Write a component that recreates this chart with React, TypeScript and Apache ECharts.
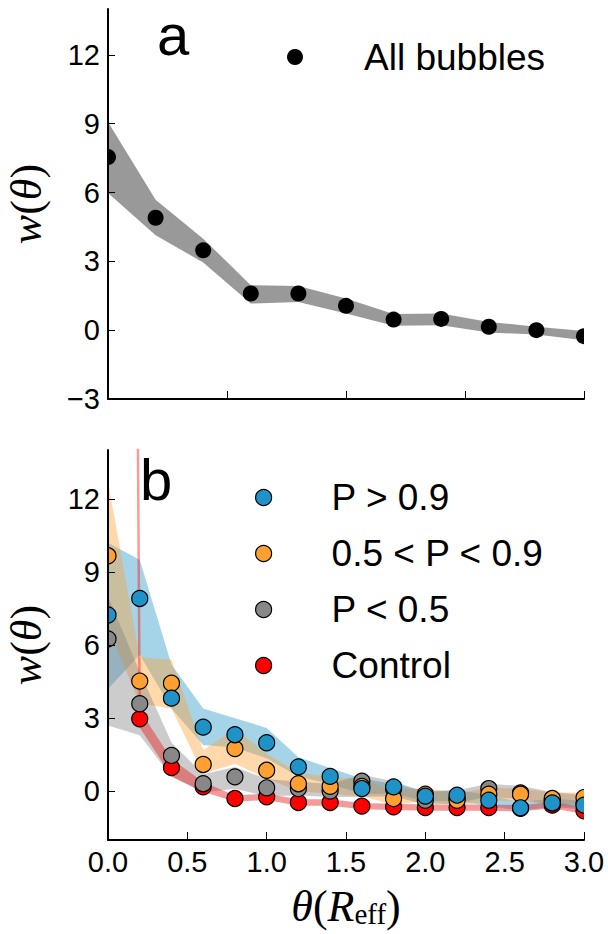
import React, { useEffect, useRef } from "react";
import * as echarts from "echarts";

// ---------- Panel a data ----------
const thetaA = [0, 0.3, 0.6, 0.9, 1.2, 1.5, 1.8, 2.1, 2.4, 2.7, 3.0];
const allW = [7.55, 4.9, 3.48, 1.6, 1.6, 1.06, 0.46, 0.49, 0.15, 0.0, -0.26];
const allLo = [5.98, 4.14, 2.95, 1.16, 1.23, 0.73, 0.19, 0.22, -0.1, -0.19, -0.44];
const allHi = [9.07, 5.69, 3.99, 1.96, 1.93, 1.38, 0.7, 0.73, 0.36, 0.15, -0.04];

// ---------- Panel b data ----------
const thetaB = [0, 0.2, 0.4, 0.6, 0.8, 1.0, 1.2, 1.4, 1.6, 1.8, 2.0, 2.2, 2.4, 2.6, 2.8, 3.0];
const highW = [7.23, 7.91, 3.82, 2.63, 2.32, 1.99, 1.0, 0.61, 0.11, 0.18, -0.2, -0.16, -0.37, -0.68, -0.48, -0.57];
const highLo = [4.2, 5.6, 3.4, 1.9, 1.8, 1.35, 0.6, 0.3, -0.1, -0.1, -0.4, -0.4, -0.6, -0.8, -0.65, -0.75];
const highHi = [10.2, 9.5, 5.2, 3.4, 3.0, 2.6, 1.4, 0.95, 0.52, 0.3, 0.0, 0.05, -0.15, -0.45, -0.3, -0.4];

const midW = [9.66, 4.52, 4.43, 1.1, 1.75, 0.86, 0.31, 0.2, 0.2, -0.3, -0.12, -0.37, -0.12, -0.12, -0.3, -0.26];
const midLo = [6.7, 3.6, 3.4, 0.72, 1.13, 0.52, 0.0, -0.1, -0.2, -0.55, -0.4, -0.6, -0.4, -0.4, -0.55, -0.5];
const midHi = [12.7, 5.5, 5.4, 1.68, 2.56, 1.54, 0.75, 0.6, 0.5, 0.0, 0.15, -0.1, 0.15, 0.1, -0.05, -0.05];

const lowW = [6.25, 3.59, 1.47, 0.31, 0.59, 0.14, 0.11, 0.01, 0.41, 0.1, -0.37, -0.3, 0.11, -0.07, -0.4, -0.5];
const lowLo = [2.7, 2.3, 0.6, -0.05, 0.1, -0.2, -0.16, -0.25, -0.23, -0.2, -0.55, -0.5, -0.2, -0.35, -0.55, -0.65];
const lowHi = [8.0, 4.9, 2.0, 0.7, 1.0, 0.5, 0.4, 0.3, 0.68, 0.41, -0.03, 0.04, 0.31, 0.22, -0.03, -0.16];

const controlW = [null, 2.97, 0.97, 0.18, -0.3, -0.23, -0.46, -0.46, -0.61, -0.64, -0.67, -0.67, -0.67, -0.7, -0.57, -0.8];
const controlLo = [null, 2.62, 0.62, -0.02, -0.43, -0.36, -0.59, -0.59, -0.74, -0.77, -0.8, -0.8, -0.8, -0.83, -0.7, -0.93];
const controlHi = [null, 3.32, 1.32, 0.38, -0.17, -0.1, -0.33, -0.33, -0.48, -0.51, -0.54, -0.54, -0.54, -0.57, -0.44, -0.67];
const controlAtZero = 200; // off-scale value at theta = 0

// ---------- ticks ----------
const xTicksA = [0, 0.75, 1.5, 2.25, 3.0];
const yTicksA = [-3, 0, 3, 6, 9, 12];
const xTicksB = [0, 0.5, 1.0, 1.5, 2.0, 2.5, 3.0];
const yTicksB = [0, 3, 6, 9, 12];

const SANS = "Liberation Sans";
const SERIF = "Liberation Serif";

const C_BLUE = "#1f93c8";
const C_ORANGE = "#ffa030";
const C_GRAY = "#888888";
const C_RED = "#ff0000";

function bandSeries(xs: number[], lo: (number | null)[], hi: (number | null)[], fill: string, gi: number) {
  return {
    type: "custom",
    xAxisIndex: gi,
    yAxisIndex: gi,
    clip: true,
    silent: true,
    z: 2,
    data: [[xs[0], 0]],
    renderItem: (_p: any, api: any) => {
      const pts: number[][] = [];
      for (let i = 0; i < xs.length; i++) if (hi[i] != null) pts.push(api.coord([xs[i], hi[i]]));
      for (let i = xs.length - 1; i >= 0; i--) if (lo[i] != null) pts.push(api.coord([xs[i], lo[i]]));
      return { type: "polygon", shape: { points: pts }, style: { fill } };
    },
  };
}

function dotSeries(name: string, xs: number[], ys: (number | null)[], color: string, gi: number, r: number, stroke: boolean) {
  const data: number[][] = [];
  xs.forEach((x, i) => {
    if (ys[i] != null) data.push([x, ys[i] as number]);
  });
  return {
    type: "custom",
    name,
    xAxisIndex: gi,
    yAxisIndex: gi,
    clip: true,
    z: 4,
    itemStyle: { color },
    data,
    renderItem: (_p: any, api: any) => {
      const c = api.coord([api.value(0), api.value(1)]);
      return {
        type: "circle",
        shape: { cx: c[0], cy: c[1], r },
        style: { fill: color, stroke: stroke ? "#000" : null, lineWidth: stroke ? 1.2 : 0 },
      };
    },
  };
}

const minus = (v: number) => (v < 0 ? "\u2212" + Math.abs(v) : String(v));

const axisNameRich = {
  i: { fontFamily: SERIF, fontStyle: "italic", fontSize: 44, color: "#000", lineHeight: 50, verticalAlign: "bottom" },
  n: { fontFamily: SERIF, fontSize: 44, color: "#000", lineHeight: 50, verticalAlign: "bottom" },
  s: { fontFamily: SERIF, fontSize: 29, color: "#000", lineHeight: 29, verticalAlign: "bottom" },
};

function yAxisCfg(gi: number, min: number, max: number, ticks: number[]) {
  return {
    type: "value",
    gridIndex: gi,
    min,
    max,
    z: 10,
    name: "{i|w}{n|(}{i|θ}{n|)}",
    nameLocation: "middle",
    nameRotate: 90,
    nameGap: 60,
    nameTextStyle: { rich: axisNameRich },
    axisLine: { show: true, lineStyle: { color: "#000", width: 2 } },
    axisTick: { show: true, inside: true, length: 7, customValues: ticks, lineStyle: { color: "#000", width: 1 } },
    axisLabel: {
      customValues: ticks,
      formatter: (v: number) => minus(v),
      fontFamily: SANS,
      fontSize: 29,
      color: "#000",
      margin: 8,
    },
    splitLine: { show: false },
  };
}

export default function App() {
  const ref = useRef<HTMLDivElement>(null);
  useEffect(() => {
    if (!ref.current) return;
    const chart = echarts.init(ref.current, null, { renderer: "svg" });
    const option: any = {
      animation: false,
      backgroundColor: "#fff",
      title: [
        { text: "a", left: 152, top: 0, textStyle: { fontFamily: SANS, fontSize: 58, fontWeight: "normal", color: "#000" } },
        { text: "b", left: 135, top: 445, textStyle: { fontFamily: SANS, fontSize: 58, fontWeight: "normal", color: "#000" } },
      ],
      legend: [
        {
          left: 282,
          top: 33,
          orient: "vertical",
          icon: "circle",
          itemWidth: 16,
          itemHeight: 16,
          selectedMode: false,
          textStyle: { fontFamily: SANS, fontSize: 37, color: "#000", padding: [0, 0, 0, 56], lineHeight: 38 },
          data: [{ name: "All bubbles", itemStyle: { color: "#000", borderWidth: 0 } }],
        },
        {
          left: 250,
          top: 474,
          orient: "vertical",
          icon: "circle",
          itemWidth: 16,
          itemHeight: 16,
          itemGap: 19,
          selectedMode: false,
          textStyle: { fontFamily: SANS, fontSize: 37, color: "#000", padding: [0, 0, 0, 55], lineHeight: 36 },
          data: [
            { name: "P > 0.9", itemStyle: { color: C_BLUE, borderColor: "#000", borderWidth: 1.2 } },
            { name: "0.5 < P < 0.9", itemStyle: { color: C_ORANGE, borderColor: "#000", borderWidth: 1.2 } },
            { name: "P < 0.5", itemStyle: { color: C_GRAY, borderColor: "#000", borderWidth: 1.2 } },
            { name: "Control", itemStyle: { color: C_RED, borderColor: "#000", borderWidth: 1.2 } },
          ],
        },
      ],
      grid: [
        { left: 108, top: 9, width: 476, height: 390, outerBoundsMode: "none", containLabel: false },
        { left: 108, top: 450, width: 476, height: 390, outerBoundsMode: "none", containLabel: false },
      ],
      xAxis: [
        {
          type: "value",
          gridIndex: 0,
          min: 0,
          max: 3,
          z: 10,
          axisLine: { show: true, onZero: false, lineStyle: { color: "#000", width: 2 } },
          axisTick: { show: true, inside: true, length: 8, customValues: xTicksA, lineStyle: { color: "#000", width: 1 } },
          axisLabel: { show: false, customValues: xTicksA },
          splitLine: { show: false },
        },
        {
          type: "value",
          gridIndex: 1,
          min: 0,
          max: 3,
          z: 10,
          name: "{i|θ}{n|(}{i|R}{s|eff}{n|)}",
          nameLocation: "middle",
          nameGap: 38,
          nameTextStyle: { rich: axisNameRich },
          axisLine: { show: true, onZero: false, lineStyle: { color: "#000", width: 2 } },
          axisTick: { show: true, inside: true, length: 8, customValues: xTicksB, lineStyle: { color: "#000", width: 1 } },
          axisLabel: {
            customValues: xTicksB,
            formatter: (v: number) => v.toFixed(1),
            fontFamily: SANS,
            fontSize: 29,
            color: "#000",
            margin: 7,
          },
          splitLine: { show: false },
        },
      ],
      yAxis: [yAxisCfg(0, -3, 14, yTicksA), yAxisCfg(1, -2, 14, yTicksB)],
      series: [
        // panel a
        bandSeries(thetaA, allLo, allHi, "#999999", 0),
        dotSeries("All bubbles", thetaA, allW, "#000", 0, 8, false),
        // panel b bands
        bandSeries(thetaB, highLo, highHi, "rgba(31,147,200,0.4)", 1),
        bandSeries(thetaB, midLo, midHi, "rgba(255,160,48,0.4)", 1),
        bandSeries(thetaB, lowLo, lowHi, "rgba(128,128,128,0.4)", 1),
        bandSeries(thetaB, controlLo, controlHi, "rgba(230,30,30,0.45)", 1),
        {
          type: "line",
          xAxisIndex: 1,
          yAxisIndex: 1,
          clip: true,
          silent: true,
          symbol: "none",
          z: 3,
          lineStyle: { color: "rgba(255,0,0,0.4)", width: 2.5 },
          data: [
            [thetaB[0], controlAtZero],
            [thetaB[1], controlW[1]],
          ],
        },
        // panel b dots
        dotSeries("Control", thetaB, controlW, C_RED, 1, 8, true),
        dotSeries("P < 0.5", thetaB, lowW, C_GRAY, 1, 8, true),
        dotSeries("0.5 < P < 0.9", thetaB, midW, C_ORANGE, 1, 8, true),
        dotSeries("P > 0.9", thetaB, highW, C_BLUE, 1, 8, true),
      ],
    };
    chart.setOption(option);
    return () => chart.dispose();
  }, []);
  return (
    <div
      ref={ref}
      style={{ position: "fixed", left: 0, top: 0, width: 608, height: 934, background: "#fff" }}
    />
  );
}
